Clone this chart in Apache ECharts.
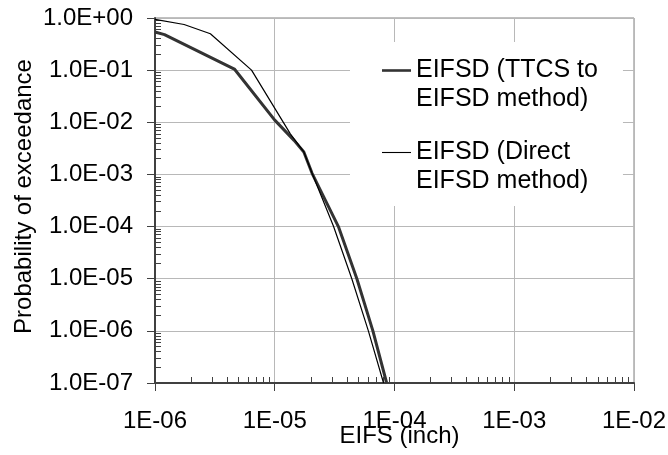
<!DOCTYPE html>
<html><head><meta charset="utf-8">
<script src="https://cdn.jsdelivr.net/npm/echarts@6/dist/echarts.min.js"></script>
<style>html,body{margin:0;padding:0;background:#fff}#c{width:668px;height:455px}</style>
</head><body><div id="c"></div>
<script>
const seriesNames = ['EIFSD (TTCS to\nEIFSD method)', 'EIFSD (Direct\nEIFSD method)'];
const ttcsX = [1e-6, 1.2e-6, 4.6e-6, 1e-5, 1.45e-5, 1.75e-5, 2.05e-5, 3.4e-5, 4.85e-5, 6.6e-5, 8.6e-5];
const ttcsY = [0.54, 0.48, 0.105, 0.011, 4.5e-3, 2.7e-3, 1.05e-3, 1e-4, 1e-5, 1e-6, 1e-7];
const directX = [1e-6, 1.75e-6, 2.9e-6, 6.4e-6, 1.35e-5, 1.75e-5, 2.05e-5, 3.1e-5, 4.4e-5, 6.05e-5, 8.1e-5];
const directY = [0.94, 0.75, 0.5, 0.1, 6e-3, 2.7e-3, 1.05e-3, 1e-4, 1e-5, 1e-6, 1e-7];
const xTickLabels = ['1E-06', '1E-05', '1E-04', '1E-03', '1E-02'];
const yTickLabels = ['1.0E-07', '1.0E-06', '1.0E-05', '1.0E-04', '1.0E-03', '1.0E-02', '1.0E-01', '1.0E+00'];
const xExpRange = [-6, -2];
const yExpRange = [-7, 0];
const minorMultipliers = [2, 3, 4, 5, 6, 7, 8, 9];
const xTitle = 'EIFS (inch)';
const yTitle = 'Probability of exceedance';

function minorValues(range) {
  const out = [];
  for (let e = range[0]; e < range[1]; e++) minorMultipliers.forEach(k => out.push(e + Math.log10(k)));
  return out;
}
const FONT = 'Liberation Sans, Arial, sans-serif';
const axisDark = '#404040';
const chart = echarts.init(document.getElementById('c'), null, {renderer: 'canvas'});
const zip = (xs, ys) => xs.map((x, i) => [x, ys[i]]);
chart.setOption({
  animation: false,
  textStyle: {fontFamily: FONT, color: '#000'},
  grid: {left: 155, right: 34, top: 18, bottom: 72, show: true, borderColor: '#808080', borderWidth: 1,
    containLabel: false, outerBoundsMode: 'none'},
  legend: {
    orient: 'vertical', left: 350, top: 42, padding: [-15, 25, 10, 32],
    backgroundColor: '#ffffff', itemWidth: 29, itemHeight: 14, itemGap: -5, selectedMode: false,
    symbolKeepAspect: true,
    formatter: name => '\n' + name,
    textStyle: {fontFamily: FONT, fontSize: 25, color: '#000', lineHeight: 29},
    data: [
      {name: seriesNames[0], icon: 'path://M0,0H29V2.6H0Z'},
      {name: seriesNames[1], icon: 'path://M0,0H29V1.1H0Z'}
    ]
  },
  xAxis: [{
    type: 'log', logBase: 10, min: Math.pow(10, xExpRange[0]), max: Math.pow(10, xExpRange[1]), interval: 1,
    name: xTitle, nameLocation: 'middle', nameGap: 41, nameMoveOverlap: false,
    nameTextStyle: {fontFamily: FONT, fontSize: 24, color: '#000', padding: [0, 0, 0, 10]},
    axisLine: {onZero: false, lineStyle: {color: axisDark, width: 2}},
    axisTick: {show: true, inside: false, length: 8, lineStyle: {color: axisDark, width: 1}},
    axisLabel: {margin: 26, fontFamily: FONT, fontSize: 24, color: '#000',
      formatter: v => xTickLabels[Math.round(Math.log10(v)) - xExpRange[0]]},
    splitLine: {show: true, lineStyle: {color: '#b8b8b8', width: 1}},
    minorTick: {show: false}
  }, {
    type: 'value', position: 'bottom', min: xExpRange[0], max: xExpRange[1],
    axisLine: {show: false, onZero: false}, axisLabel: {show: false}, splitLine: {show: false},
    axisTick: {show: true, inside: true, length: 6, customValues: minorValues(xExpRange), lineStyle: {color: axisDark, width: 1}}
  }],
  yAxis: [{
    type: 'log', logBase: 10, min: Math.pow(10, yExpRange[0]), max: Math.pow(10, yExpRange[1]), interval: 1,
    name: yTitle, nameLocation: 'middle', nameGap: 131, nameRotate: 90, nameMoveOverlap: false,
    nameTextStyle: {fontFamily: FONT, fontSize: 24, color: '#000', verticalAlign: 'middle', padding: [0, 0, 0, 8]},
    axisLine: {onZero: false, lineStyle: {color: axisDark, width: 2}},
    axisTick: {show: true, inside: false, length: 8, lineStyle: {color: axisDark, width: 1}},
    axisLabel: {margin: 22, fontFamily: FONT, fontSize: 24, color: '#000',
      formatter: v => yTickLabels[Math.round(Math.log10(v)) - yExpRange[0]]},
    splitLine: {show: true, lineStyle: {color: '#b8b8b8', width: 1}}
  }, {
    type: 'value', position: 'left', min: yExpRange[0], max: yExpRange[1],
    axisLine: {show: false, onZero: false}, axisLabel: {show: false}, splitLine: {show: false},
    axisTick: {show: true, inside: true, length: 6, customValues: minorValues(yExpRange), lineStyle: {color: axisDark, width: 1}}
  }],
  series: [{
    name: seriesNames[0], type: 'line', symbol: 'none', xAxisIndex: 0, yAxisIndex: 0,
    lineStyle: {color: '#333333', width: 3}, itemStyle: {color: '#333333'},
    data: zip(ttcsX, ttcsY)
  }, {
    name: seriesNames[1], type: 'line', symbol: 'none', xAxisIndex: 0, yAxisIndex: 0,
    lineStyle: {color: '#000000', width: 1.2}, itemStyle: {color: '#000000'},
    data: zip(directX, directY)
  }]
});
</script></body></html>
